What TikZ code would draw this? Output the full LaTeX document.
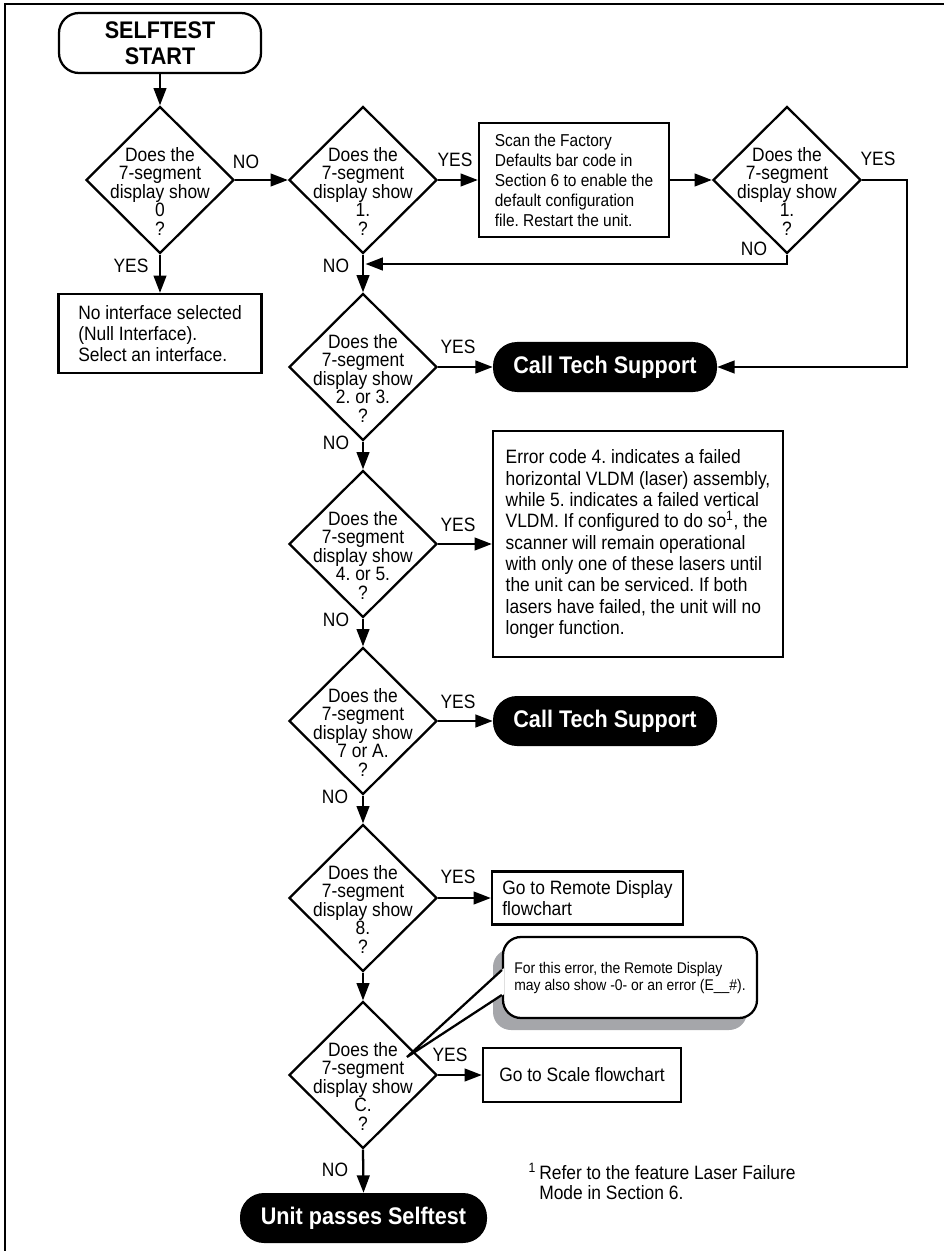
\documentclass[tikz,border=0pt]{standalone}
\usepackage{fontspec}
\setmainfont{Liberation Sans}[FakeStretch=0.9]
\usetikzlibrary{shapes.geometric,arrows.meta}
\definecolor{shd}{RGB}{165,166,170}
\begin{document}
\frenchspacing
\begin{tikzpicture}[x=0.75pt,y=-0.75pt,
 ln/.style={line width=1.7pt},
 arr/.style={line width=1.7pt,-{Triangle[length=13pt,width=9.5pt]}},
 dia/.style={draw,line width=1.7pt,diamond,minimum width=111pt,minimum height=110.25pt,inner sep=0pt},
 dtxt/.style={align=center,inner sep=0pt,yshift=-8.5pt,font=\fontsize{14.5pt}{13.9pt}\selectfont},
 lbl/.style={inner sep=0pt,font=\fontsize{14.5pt}{15pt}\selectfont},
 box/.style={draw,line width=1.7pt,align=left,inner xsep=2pt,inner ysep=0pt,font=\fontsize{14.5pt}{15.75pt}\selectfont},
 term/.style={fill=black,text=white,rounded corners=18pt,minimum height=37.5pt,inner sep=0pt,font=\fontsize{18pt}{19.5pt}\selectfont\bfseries},
]
\useasboundingbox (0,0) rectangle (944,1251);
% frame
\draw[line width=1.5pt] (4.5,1251) -- (4.5,4.5) -- (944,4.5);

% callout (drawn first so that diamond lines lie on top)
\fill[shd,rounded corners=13.5pt] (493,949) rectangle (747,1030);
\node[draw,line width=1.7pt,fill=white,rounded corners=13.5pt,minimum width=190.5pt,minimum height=60.75pt,
      inner xsep=2pt,inner ysep=0pt,align=left,font=\fontsize{11.6pt}{12.75pt}\selectfont]
  (co) at (630,977.5) {For this error, the Remote Display\\may also show -0- or an error (E\_\_\#).};
\coordinate (tip) at (407,1057);
\fill[white] ([yshift=7pt,xshift=1.5pt]co.west) -- (tip) -- ([yshift=-12.6pt,xshift=1.5pt]co.west) -- cycle;

% start
\node[draw,line width=1.7pt,fill=white,rounded corners=15pt,minimum width=151.5pt,minimum height=45pt,inner sep=0pt,
      align=center,font=\fontsize{18pt}{19.5pt}\selectfont\bfseries] (start) at (160,43) {SELFTEST\\START};

% diamonds
\node[dia] (d1) at (160,180) {};
\node[dia] (d2) at (363,180) {};
\node[dia] (d3) at (787,180) {};
\node[dia] (d4) at (363,367) {};
\node[dia] (d5) at (363,544) {};
\node[dia] (d6) at (363,721) {};
\node[dia] (d7) at (363,898) {};
\node[dia] (d8) at (363,1075) {};
\node[dtxt] (t1) at (d1) {Does the\\7-segment\\display show\\0\\?};
\node[dtxt] (t2) at (d2) {Does the\\7-segment\\display show\\1.\\?};
\node[dtxt] (t3) at (d3) {Does the\\7-segment\\display show\\1.\\?};
\node[dtxt] (t4) at (d4) {Does the\\7-segment\\display show\\2. or 3.\\?};
\node[dtxt] (t5) at (d5) {Does the\\7-segment\\display show\\4. or 5.\\?};
\node[dtxt] (t6) at (d6) {Does the\\7-segment\\display show\\7 or A.\\?};
\node[dtxt] (t7) at (d7) {Does the\\7-segment\\display show\\8.\\?};
\node[dtxt] (t8) at (d8) {Does the\\7-segment\\display show\\C.\\?};

% boxes
\node[box,minimum width=152.25pt,minimum height=59.25pt] (null) at (160,333.5)
  {No interface selected\\(Null Interface).\\Select an interface.};
\node[box,minimum width=142.5pt,minimum height=85.5pt,font=\fontsize{12.9pt}{15pt}\selectfont] (scan) at (574,180)
  {Scan the Factory\\Defaults bar code in\\Section 6 to enable the\\default configuration\\file. Restart the unit.};
\node[box,minimum width=217.5pt,minimum height=169.5pt,font=\fontsize{14.5pt}{16pt}\selectfont] (err) at (638,544)
  {Error code 4. indicates a failed\\horizontal VLDM (laser) assembly,\\while 5. indicates a failed vertical\\VLDM. If configured to do so\textsuperscript{1}, the\\scanner will remain operational\\with only one of these lasers until\\the unit can be serviced. If both\\lasers have failed, the unit will no\\longer function.};
\node[box,minimum width=143.25pt,minimum height=39.75pt] (remote) at (587.5,898)
  {Go to Remote Display\\flowchart};
\node[box,minimum width=148.5pt,minimum height=40.5pt] (scale) at (582,1075)
  {Go to Scale flowchart};

% terminals
\node[term,minimum width=168pt] (call1) at (605,367) {Call Tech Support};
\node[term,minimum width=168pt] (call2) at (605,721) {Call Tech Support};
\node[term,minimum width=185.25pt] (unit) at (363.5,1218) {Unit passes Selftest};

% connectors
\draw[arr] (start) -- (d1);
\draw[arr] (d1.east) -- (d2.west);
\draw[arr] (d1.south) -- (null.north);
\draw[arr] (d2.east) -- (scan.west);
\draw[arr] (scan.east) -- (d3.west);
\coordinate (r) at (907,180);
\draw[arr] (d3.east) -- (r) |- (call1.east);
\coordinate (j) at (365.5,264);
\draw[arr] (d3.south) |- (j);
\draw[arr] (d2.south) -- (d4.north);
\draw[arr] (d4.east) -- (call1.west);
\draw[arr] (d4.south) -- (d5.north);
\draw[arr] (d5.east) -- (err.west);
\draw[arr] (d5.south) -- (d6.north);
\draw[arr] (d6.east) -- (call2.west);
\draw[arr] (d6.south) -- (d7.north);
\draw[arr] (d7.east) -- (remote.west);
\draw[arr] (d7.south) -- (d8.north);
\draw[arr] (d8.east) -- (scale.west);
\draw[arr] (d8.south) -- (unit.north);

% callout pointer
\draw[ln,line join=miter] ([yshift=5.6pt]co.west) -- (tip) -- ([yshift=-13.1pt]co.west);

% labels
\node[lbl] (l1) at (246,162) {NO};
\node[lbl] (l2) at (131,266) {YES};
\node[lbl] (l3) at (455,160) {YES};
\node[lbl] (l4) at (336,266) {NO};
\node[lbl] (l5) at (878,159) {YES};
\node[lbl] (l6) at (754,249) {NO};
\node[lbl] (l7) at (458,347) {YES};
\node[lbl] (l8) at (336,443) {NO};
\node[lbl] (l9) at (458,525) {YES};
\node[lbl] (l10) at (336,620) {NO};
\node[lbl] (l11) at (458,702) {YES};
\node[lbl] (l12) at (335,797) {NO};
\node[lbl] (l13) at (458,877) {YES};
\node[lbl] (l14) at (450,1055) {YES};
\node[lbl] (l15) at (335,1170) {NO};

% footnote
\node[lbl,align=left,anchor=base west,font=\fontsize{14.5pt}{15pt}\selectfont] (fn) at (539,1199)
  {\llap{\textsuperscript{1}\,}Refer to the feature Laser Failure\\Mode in Section 6.};
\end{tikzpicture}
\end{document}
